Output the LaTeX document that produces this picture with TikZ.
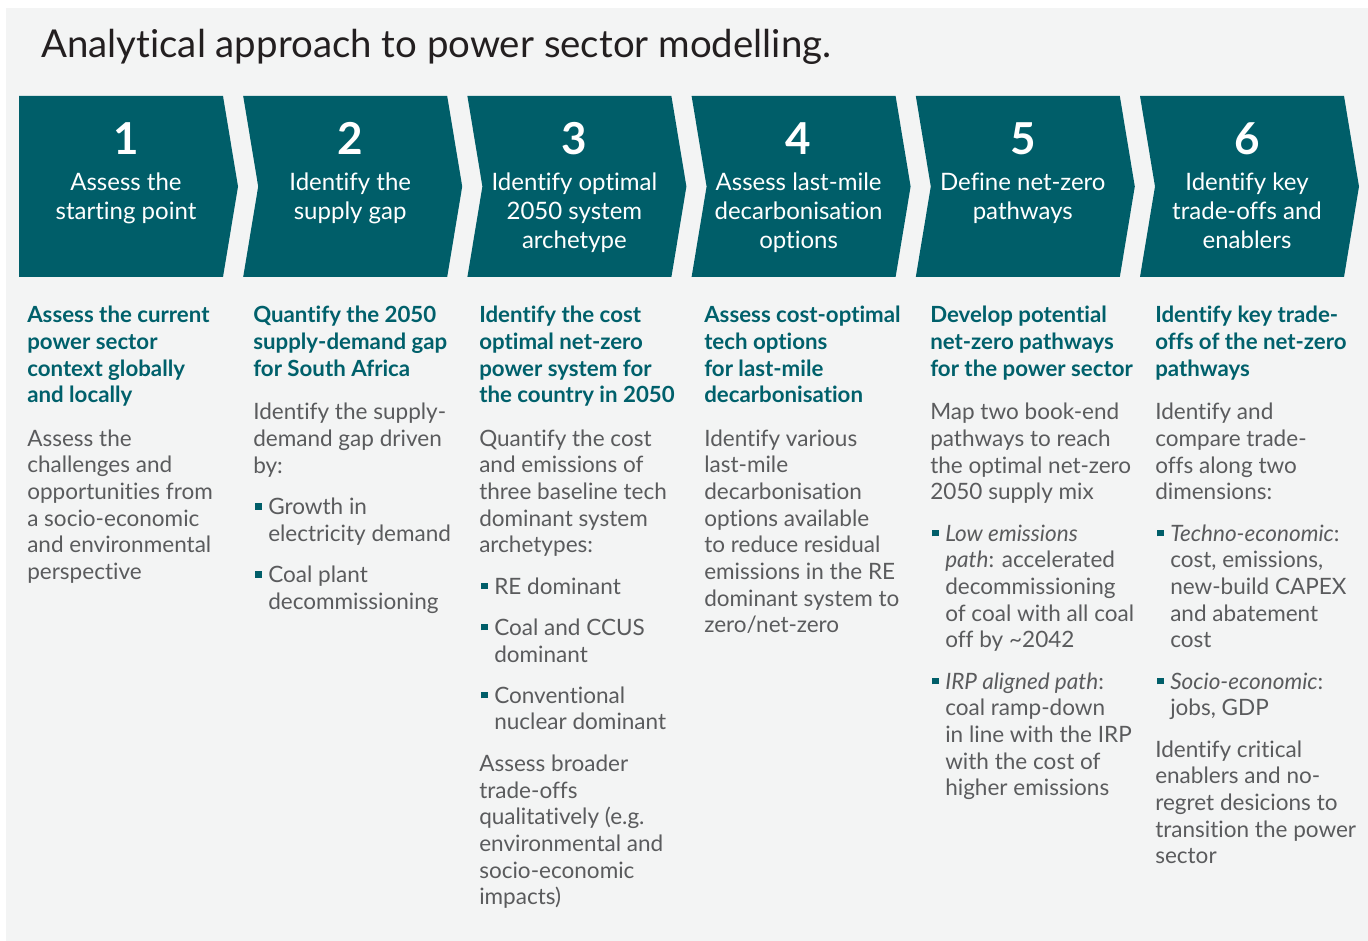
\documentclass[tikz,border=0pt]{standalone}
\usepackage{fontspec}
\setmainfont{Lato}[Ligatures={NoCommon,TeX}]
\definecolor{bgc}{HTML}{F3F4F4}
\definecolor{chevc}{HTML}{005E69}
\definecolor{headc}{HTML}{00606B}
\definecolor{bodyc}{HTML}{5A5B5D}
\definecolor{titlec}{HTML}{231F20}
\newcommand\bul{\makebox[11.25pt][l]{\hspace{1.5pt}\textcolor{chevc}{\rule[0.22em]{4.8pt}{4.8pt}}}}
\newcommand\bulind{\hspace*{11.25pt}}
\newcommand\colt[1]{\begin{tabular}[t]{@{}l@{}}#1\end{tabular}}
\newcommand\colc[1]{\begin{tabular}[t]{@{}c@{}}#1\end{tabular}}
\tikzset{
  chev/.style={fill=chevc, draw=none},
  num/.style={anchor=base, inner sep=0, text=white, font=\fontsize{33}{36}\selectfont\bfseries},
  ctext/.style={anchor=base, inner sep=0, text=white, font=\fontsize{18}{21.75}\selectfont},
  head/.style={anchor=base west, inner sep=0, text=headc, font=\fontsize{16.7}{20}\selectfont\bfseries},
  body/.style={anchor=base west, inner sep=0, text=bodyc, font=\fontsize{16.9}{20}\selectfont},
  title/.style={anchor=base west, inner sep=0, text=titlec, font=\fontsize{28.8}{34}\selectfont},
}
\begin{document}
\begin{tikzpicture}[x=0.75pt,y=-0.75pt]
\useasboundingbox (0,0) rectangle (1368,941);
\fill[white] (0,0) rectangle (1368,941);
\fill[bgc] (6,8) rectangle (1368,941);

\node[title] (title) at (41,58) {Analytical approach to power sector modelling.};

% chevrons
\fill[chev] (19,96) -- ++(204,0) -- ++(15,90.5) -- ++(-15,90.5) -- ++(-204,0) -- cycle;
\foreach \L in {243.2,467.4,691.6,915.8,1140}{
  \fill[chev] (\L,96) -- ++(204,0) -- ++(15,90.5) -- ++(-15,90.5) -- ++(-204,0) -- ++(15,-90.5) -- cycle;
}

\node[num] (n1) at (126,155) {1};
\node[num] (n2) at (350.2,155) {2};
\node[num] (n3) at (574.4,155) {3};
\node[num] (n4) at (798.6,155) {4};
\node[num] (n5) at (1022.8,155) {5};
\node[num] (n6) at (1247,155) {6};

\node[ctext] (c1) at (126,190.5) {\colc{Assess the\\starting point}};
\node[ctext] (c2) at (350.2,190.5) {\colc{Identify the\\supply gap}};
\node[ctext] (c3) at (574.4,190.5) {\colc{Identify optimal\\2050 system\\archetype}};
\node[ctext] (c4) at (798.6,190.5) {\colc{Assess last-mile\\decarbonisation\\options}};
\node[ctext] (c5) at (1022.8,190.5) {\colc{Define net-zero\\pathways}};
\node[ctext] (c6) at (1247,190.5) {\colc{Identify key\\trade-offs and\\enablers}};

% headings
\node[head] (h1) at (27,323) {\colt{Assess the current\\power sector\\context globally\\and locally}};
\node[head] (h2) at (253,323) {\colt{Quantify the 2050\\supply-demand gap\\for South Africa}};
\node[head] (h3) at (479,323) {\colt{Identify the cost\\optimal net-zero\\power system for\\the country in 2050}};
\node[head] (h4) at (704,323) {\colt{Assess cost-optimal\\tech options\\for last-mile\\decarbonisation}};
\node[head] (h5) at (930,323) {\colt{Develop potential\\net-zero pathways\\for the power sector}};
\node[head] (h6) at (1155,323) {\colt{Identify key trade-\\offs of the net-zero\\pathways}};

% bodies
\node[body] (b1) at (27,446) {\colt{Assess the\\challenges and\\opportunities from\\a socio-economic\\and environmental\\perspective}};
\node[body] (b2) at (253,420) {\colt{Identify the supply-\\demand gap driven\\by:\\[11pt]
\bul Growth in\\\bulind electricity demand\\[11pt]
\bul Coal plant\\\bulind decommissioning}};
\node[body] (b3) at (479,446) {\colt{Quantify the cost\\and emissions of\\three baseline tech\\dominant system\\archetypes:\\[11pt]
\bul RE dominant\\[11pt]
\bul Coal and CCUS\\\bulind dominant\\[11pt]
\bul Conventional\\\bulind nuclear dominant\\[11pt]
Assess broader\\trade-offs\\qualitatively (e.g.\\environmental and\\socio-economic\\impacts)}};
\node[body] (b4) at (704,446) {\colt{Identify various\\last-mile\\decarbonisation\\options available\\to reduce residual\\emissions in the RE\\dominant system to\\zero/net-zero}};
\node[body] (b5) at (930,420) {\colt{Map two book-end\\pathways to reach\\the optimal net-zero\\2050 supply mix\\[11pt]
\bul\textit{Low emissions}\\\bulind\textit{path}: accelerated\\\bulind decommissioning\\\bulind of coal with all coal\\\bulind off by \textasciitilde2042\\[11pt]
\bul\textit{IRP aligned path}:\\\bulind coal ramp-down\\\bulind in line with the IRP\\\bulind with the cost of\\\bulind higher emissions}};
\node[body] (b6) at (1155,420) {\colt{Identify and\\compare trade-\\offs along two\\dimensions:\\[11pt]
\bul\textit{Techno-economic}:\\\bulind cost, emissions,\\\bulind new-build CAPEX\\\bulind and abatement\\\bulind cost\\[11pt]
\bul\textit{Socio-economic}:\\\bulind jobs, GDP\\[11pt]
Identify critical\\enablers and no-\\regret desicions to\\transition the power\\sector}};
\end{tikzpicture}
\end{document}
